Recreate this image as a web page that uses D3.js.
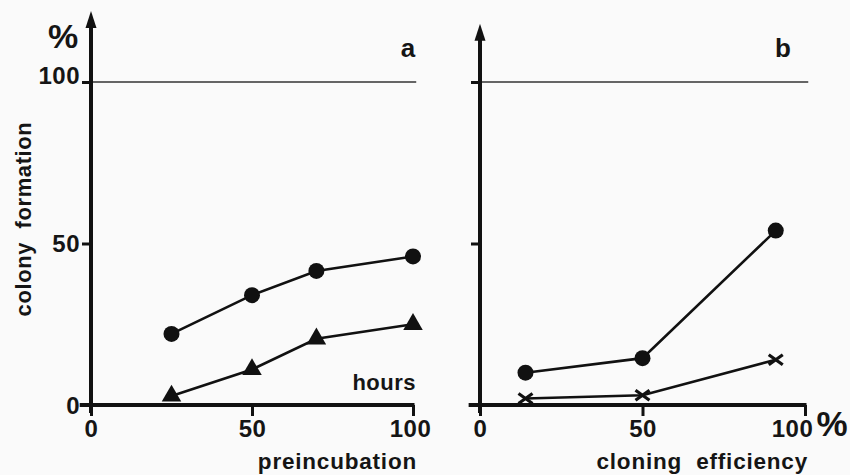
<!DOCTYPE html>
<html><head><meta charset="utf-8">
<script src="https://cdn.jsdelivr.net/npm/d3@7"></script>
<style>
html,body{margin:0;padding:0;background:#fafafa;}
svg{display:block;font-family:"Liberation Sans",Arial,sans-serif;}
text{fill:#151515;font-weight:bold;}
</style></head>
<body>
<svg id="c" width="850" height="475"></svg>
<script>
// Panel a: colony formation vs preincubation time (hours)
const hoursA = [25, 50, 70, 100];
const circlesA = [22, 34, 41.5, 46];
const trianglesA = [2.8, 11, 20.5, 25];
// Panel b: colony formation vs cloning efficiency (%)
const efficiencyB = [14, 50, 91];
const circlesB = [10, 14.5, 54];
const crossesB = [2, 3, 14];
const yTicks = [0, 50, 100];
const xTicks = [0, 50, 100];

const svg = d3.select("#c");
const ink = "#111";

const yScale = d3.scaleLinear([0, 100], [405, 82]);
const xA = d3.scaleLinear([0, 100], [91, 413]);
const xB = d3.scaleLinear([0, 100], [480, 805]);

function panel(x, top, yLabels, lastShift) {
  const g = svg.append("g");
  // reference line at 100%
  g.append("line").attr("x1", x(0)).attr("x2", x(101)).attr("y1", yScale(100)).attr("y2", yScale(100))
    .attr("stroke", "#333").attr("stroke-width", 1.6);
  // x axis
  const ax = g.append("g").attr("transform", `translate(0,${yScale(0)})`)
    .call(d3.axisBottom(x).tickValues(xTicks).tickSize(11).tickSizeOuter(0).tickPadding(4));
  ax.select(".domain").remove();
  ax.selectAll(".tick line").attr("stroke", ink).attr("stroke-width", 3);
  ax.selectAll(".tick text").attr("font-size", 24).attr("font-family", "Liberation Sans, Arial").attr("fill", "#151515")
    .attr("letter-spacing", 0.5).attr("dx", d => d === 100 ? lastShift : 0);
  g.append("line").attr("x1", x(-3.5)).attr("x2", x(100) + 1.5).attr("y1", yScale(0)).attr("y2", yScale(0))
    .attr("stroke", ink).attr("stroke-width", 4);
  // y axis
  const ay = g.append("g").attr("transform", `translate(${x(0)},0)`)
    .call(d3.axisLeft(yScale).tickValues(yTicks).tickSize(9).tickSizeOuter(0).tickPadding(2)
      .tickFormat(yLabels ? d3.format("d") : () => ""));
  ay.select(".domain").remove();
  ay.selectAll(".tick line").attr("stroke", ink).attr("stroke-width", 3);
  ay.selectAll(".tick text").attr("font-size", 24).attr("font-family", "Liberation Sans, Arial").attr("fill", "#151515")
    .attr("letter-spacing", 0.5).attr("dy", d => d === 100 ? "0.05em" : "0.34em");
  const tipY = yScale(top);
  g.append("line").attr("x1", x(0)).attr("x2", x(0)).attr("y1", yScale(0) + 8).attr("y2", tipY + 10)
    .attr("stroke", ink).attr("stroke-width", 4);
  g.append("path").attr("d", `M${x(0)},${tipY} L${x(0) - 5.5},${tipY + 17} L${x(0) + 5.5},${tipY + 17} Z`).attr("fill", ink);
  return g;
}

const gA = panel(xA, 122, true, -3);
const gB = panel(xB, 118, false, -13);

const line = (x) => d3.line().x(d => x(d[0])).y(d => yScale(d[1]));
function series(g, x, xs, ys) {
  const pts = xs.map((v, i) => [v, ys[i]]);
  g.append("path").datum(pts).attr("d", line(x)).attr("fill", "none").attr("stroke", ink).attr("stroke-width", 2.6);
  return pts;
}

// Panel a
const pA1 = series(gA, xA, hoursA, circlesA);
gA.selectAll(".c1").data(pA1).join("circle").attr("cx", d => xA(d[0])).attr("cy", d => yScale(d[1])).attr("r", 8).attr("fill", ink);
const pA2 = series(gA, xA, hoursA, trianglesA);
gA.selectAll(".t1").data(pA2).join("path")
  .attr("d", d3.symbol(d3.symbolTriangle, 165))
  .attr("transform", d => `translate(${xA(d[0])},${yScale(d[1])})`).attr("fill", ink);

// Panel b
const pB1 = series(gB, xB, efficiencyB, circlesB);
gB.selectAll(".c2").data(pB1).join("circle").attr("cx", d => xB(d[0])).attr("cy", d => yScale(d[1])).attr("r", 8).attr("fill", ink);
const pB2 = series(gB, xB, efficiencyB, crossesB);
gB.selectAll(".x2").data(pB2).join("path")
  .attr("d", d => { const cx = xB(d[0]), cy = yScale(d[1]); return `M${cx-7},${cy-5}L${cx+7},${cy+5}M${cx-7},${cy+5}L${cx+7},${cy-5}`; })
  .attr("stroke", ink).attr("stroke-width", 3.2).attr("fill", "none");

// Texts
svg.append("text").attr("x", 63).attr("y", 48).attr("text-anchor", "middle").attr("font-size", 34).attr("font-weight", "normal").text("%");
svg.append("text").attr("x", 832).attr("y", 436).attr("text-anchor", "middle").attr("font-size", 35).attr("font-weight", "normal").text("%");
svg.append("text").attr("x", 408).attr("y", 57).attr("text-anchor", "middle").attr("font-size", 26).text("a");
svg.append("text").attr("x", 783).attr("y", 57).attr("text-anchor", "middle").attr("font-size", 26).text("b");
svg.append("text").attr("x", 416).attr("y", 390).attr("text-anchor", "end").attr("font-size", 22).attr("letter-spacing", 0.5).text("hours");
svg.append("text").attr("x", 417).attr("y", 469).attr("text-anchor", "end").attr("font-size", 22.5).attr("letter-spacing", 0.8).text("preincubation");
svg.append("text").attr("x", 808).attr("y", 469).attr("text-anchor", "end").attr("font-size", 22.5).attr("letter-spacing", 0.8).attr("xml:space", "preserve").text("cloning  efficiency");
svg.append("text").attr("transform", "translate(31,219) rotate(-90)").attr("text-anchor", "middle").attr("font-size", 22)
  .attr("letter-spacing", 0.6).attr("xml:space", "preserve").text("colony  formation");
</script>
</body></html>
